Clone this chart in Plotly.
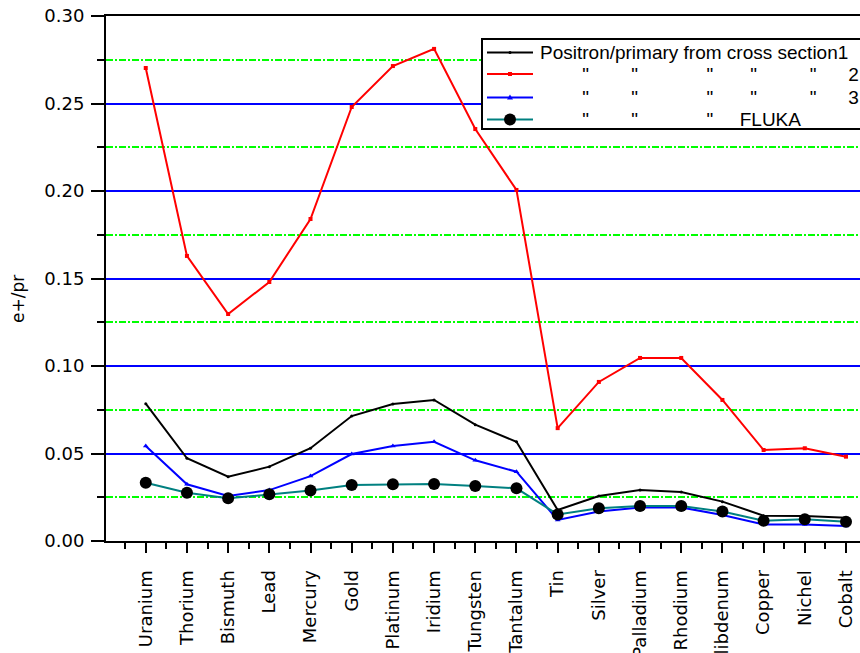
import plotly.graph_objects as go

# Target elements, heaviest first
elements = ["Uranium", "Thorium", "Bismuth", "Lead", "Mercury", "Gold", "Platinum",
            "Iridium", "Tungsten", "Tantalum", "Tin", "Silver", "Palladium", "Rhodium",
            "Molibdenum", "Copper", "Nichel", "Cobalt"]

# Positron yield per primary
cross_section_1 = [0.0785, 0.0473, 0.0367, 0.0425, 0.0530, 0.0714, 0.0783, 0.0806, 0.0665,
                   0.0567, 0.0177, 0.0257, 0.0291, 0.0280, 0.0225, 0.0145, 0.0143, 0.0133]
cross_section_2 = [0.2703, 0.1629, 0.1297, 0.1480, 0.1840, 0.2480, 0.2714, 0.2812, 0.2354,
                   0.2006, 0.0645, 0.0909, 0.1046, 0.1046, 0.0806, 0.0520, 0.0530, 0.0482]
cross_section_3 = [0.0543, 0.0324, 0.0257, 0.0291, 0.0371, 0.0497, 0.0543, 0.0567, 0.0461,
                   0.0396, 0.0120, 0.0168, 0.0192, 0.0192, 0.0149, 0.0095, 0.0095, 0.0086]
fluka = [0.0333, 0.0276, 0.0244, 0.0267, 0.0288, 0.0320, 0.0324, 0.0326, 0.0314,
         0.0301, 0.0152, 0.0187, 0.0200, 0.0200, 0.0168, 0.0116, 0.0124, 0.0110]

y_ticks = [0.00, 0.05, 0.10, 0.15, 0.20, 0.25, 0.30]

xpos = list(range(len(elements)))
minor_x = [i + 0.5 for i in range(-1, len(elements))]

NB = "\u00a0"
ditto = '"'
label_1 = "Positron/primary from cross section1"
label_rep = NB * 8 + ditto + NB * 8 + ditto + NB * 13 + ditto + NB * 7 + ditto + NB * 10 + ditto + NB * 6
label_2 = label_rep + "2"
label_3 = label_rep + "3"
label_4 = NB * 8 + ditto + NB * 8 + ditto + NB * 13 + ditto + NB * 5 + "FLUKA"

SANS = "Liberation Sans, Arial, sans-serif"
WIDE = "DejaVu Sans"

# Figure geometry (pixels) used to place the key box in paper units
W, H = 860, 653
ML, MR, MT, MB = 106, 0, 16, 112
PW, PH = W - ML - MR, H - MT - MB


def fx(px):
    return (px - ML) / PW


def fy(py):
    return (H - MB - py) / PH


series = [
    (label_1, cross_section_1, "black", dict(symbol="circle", size=3, color="black")),
    (label_2, cross_section_2, "#ff0000", dict(symbol="square", size=4, color="#ff0000")),
    (label_3, cross_section_3, "#0000ff", dict(symbol="triangle-up", size=5, color="#0000ff")),
    (label_4, fluka, "#008080", dict(symbol="circle", size=12, color="black")),
]

fig = go.Figure()
for name, vals, col, mk in series:
    fig.add_trace(go.Scatter(x=xpos, y=vals, name=name, mode="lines+markers",
                             line=dict(color=col, width=2), marker=mk, showlegend=False))

# Key box drawn by hand so the row spacing stays compact
shapes = [dict(type="rect", xref="paper", yref="paper", x0=fx(482), x1=fx(880),
               y0=fy(129), y1=fy(39), line=dict(color="black", width=2),
               fillcolor="white", layer="above")]
annotations = []
row_y = [52.5, 74, 97.5, 119.5]
key_markers = [
    dict(type="circle", x0=-1.5, x1=1.5, y0=-1.5, y1=1.5, fillcolor="black"),
    dict(type="rect", x0=-2, x1=2, y0=-2, y1=2, fillcolor="#ff0000"),
    dict(type="path", path="M-3,-2L3,-2L0,3Z", fillcolor="#0000ff"),
    dict(type="circle", x0=-6, x1=6, y0=-6, y1=6, fillcolor="black"),
]
for (name, vals, col, mk), ry, km in zip(series, row_y, key_markers):
    shapes.append(dict(type="line", xref="paper", yref="paper", x0=fx(487), x1=fx(533),
                       y0=fy(ry), y1=fy(ry), line=dict(color=col, width=2), layer="above"))
    marker_shape = dict(xref="paper", yref="paper", xsizemode="pixel", ysizemode="pixel",
                        xanchor=fx(510), yanchor=fy(ry), line=dict(width=0), layer="above")
    marker_shape.update(km)
    shapes.append(marker_shape)
    annotations.append(dict(text=name, xref="paper", yref="paper", x=fx(538), y=fy(ry),
                            xanchor="left", yanchor="middle", showarrow=False,
                            font=dict(family=SANS, size=19, color="black")))

# Vertical axis title
annotations.append(dict(text="e+/pr", xref="paper", yref="paper", x=fx(18), y=fy(299),
                        xanchor="center", yanchor="middle", textangle=-90, showarrow=False,
                        font=dict(family=WIDE, size=17, color="black")))

fig.update_layout(
    width=W, height=H,
    margin=dict(l=ML, r=MR, t=MT, b=MB, autoexpand=False),
    paper_bgcolor="white", plot_bgcolor="white",
    font=dict(family=SANS, color="black"),
    showlegend=False,
    shapes=shapes,
    annotations=annotations,
    xaxis=dict(
        range=[-0.965, 17.34],
        tickmode="array", tickvals=xpos, ticktext=elements, tickangle=-90,
        tickfont=dict(family=WIDE, size=18, color="black"),
        ticks="outside", ticklen=10, tickwidth=2, tickcolor="black",
        ticklabelstandoff=10,
        showline=True, linecolor="black", linewidth=2, mirror=True,
        showgrid=False, zeroline=False,
        minor=dict(tickmode="array", tickvals=minor_x, ticks="outside", ticklen=6,
                   tickwidth=2, tickcolor="black", showgrid=False),
    ),
    yaxis=dict(
        range=[0, 0.30],
        tickmode="array", tickvals=y_ticks, tickformat=".2f",
        tickfont=dict(family=WIDE, size=18, color="black"),
        ticks="outside", ticklen=13, tickwidth=2, tickcolor="black",
        ticklabelstandoff=3,
        showline=True, linecolor="black", linewidth=2, mirror=False,
        showgrid=True, gridcolor="#0000ff", gridwidth=2, zeroline=False,
        minor=dict(dtick=0.025, tick0=0, ticks="outside", ticklen=7, tickwidth=2,
                   tickcolor="black", showgrid=True, gridcolor="#00ff00", gridwidth=1.5,
                   griddash="7px,2px,2px,2px"),
    ),
)

fig.write_html("out.html")
